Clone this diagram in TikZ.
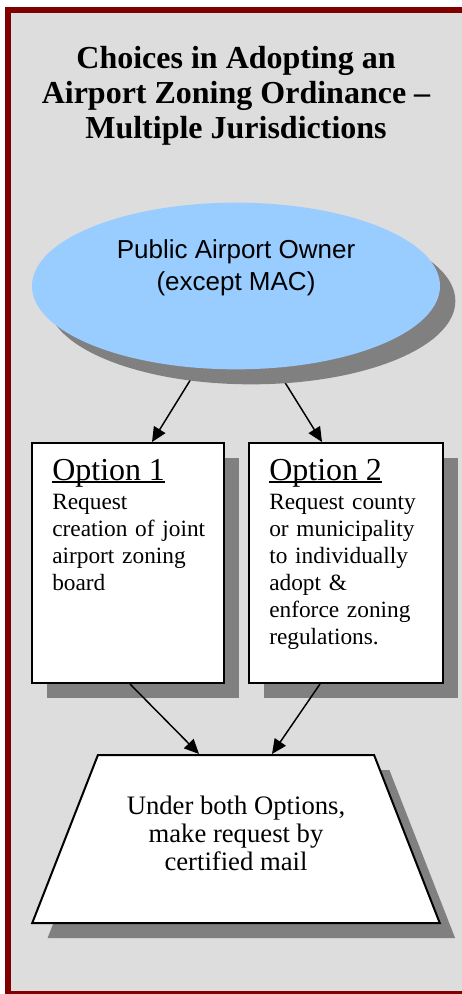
\documentclass[tikz,border=0pt]{standalone}
\usepackage{fontspec}
\setmainfont{Liberation Serif}
\newfontfamily\ownerfont{Liberation Sans}
\usepackage{xcolor}
\usetikzlibrary{shapes.geometric, arrows.meta, positioning, shadows}

\definecolor{framered}{HTML}{800000}
\definecolor{panelgray}{HTML}{DDDDDD}
\definecolor{ownerblue}{HTML}{99CCFF}
\definecolor{shadowgray}{HTML}{808080}

% underline that crosses the descenders
\newcommand{\optline}[1]{\setbox0\hbox{#1}\rlap{\rule[-2pt]{\wd0}{1pt}}\box0}

\pgfdeclarelayer{back}
\pgfdeclarelayer{behind}
\pgfsetlayers{back,behind,main}

\begin{document}
\begin{tikzpicture}[
        x=0.75pt, y=-0.75pt,
        boxshadow/.style={drop shadow={shadow xshift=11.5pt, shadow yshift=-11.25pt, fill=shadowgray, opacity=1}},
        owner/.style={ellipse, fill=ownerblue, minimum width=306pt, minimum height=125pt, inner sep=0pt, boxshadow},
        option/.style={rectangle, draw, line width=1.5pt, fill=white, minimum width=144pt, minimum height=180pt, inner sep=0pt, boxshadow},
        optiontext/.style={anchor=north west, inner sep=0pt, text width=130pt, align=left, font=\fontsize{17.5}{20.25}\selectfont},
        request/.style={trapezium, trapezium stretches=true, trapezium left angle=59, trapezium right angle=59, draw, line width=1.5pt, fill=white, minimum width=306.75pt, minimum height=126pt, inner sep=0pt, align=center, text depth=9pt, font=\fontsize{20}{21}\selectfont, boxshadow},
        link/.style={-{Triangle[length=11pt, width=10pt]}, line width=1.1pt}
    ]
        \useasboundingbox (0,0) rectangle (461,994);

        % panel
        \begin{pgfonlayer}{back}
            \draw[draw=framered, fill=panelgray, line width=4.5pt] (8,10) rectangle (480,994);
        \end{pgfonlayer}

        % title
        \node[anchor=north, inner sep=0pt, align=center, font=\fontsize{24}{26.25}\selectfont\bfseries] (title) at (236,46) {Choices in Adopting an\\ Airport Zoning Ordinance --\\ Multiple Jurisdictions};

        % airport owner
        \node[owner] (owner) at (236,286) {};
        \node[anchor=north, inner sep=0pt, align=center, font=\ownerfont\fontsize{19.5}{24}\selectfont] (ownertext) at (236,239) {Public Airport Owner\\ (except MAC)};

        % the two options
        \node[option] (opt1) at (128,563) {};
        \node[option, minimum width=145.5pt, right=17.25pt of opt1] (opt2) {};
        \node[optiontext] (opt1text) at ([xshift=15.75pt, yshift=-12.5pt]opt1.north west) {{\fontsize{24}{28}\selectfont\optline{Option 1}\par}\vspace{1.5pt}Request\\ creation of joint\\ airport zoning\\ board};
        \node[optiontext] (opt2text) at ([xshift=15.75pt, yshift=-12.5pt]opt2.north west) {{\fontsize{24}{28}\selectfont\optline{Option 2}\par}\vspace{1.5pt}Request county\\ or municipality\\ to individually\\ adopt \&\\ enforce zoning\\ regulations.};

        % common step
        \node[request] (request) at (236,839) {Under both Options,\\ make request by\\ certified mail};

        % links
        \begin{pgfonlayer}{behind}
            \draw[link] (owner.245) -- ([xshift=18pt]opt1.north);
            \draw[link] (owner.296) -- ([xshift=-18pt]opt2.north);
        \end{pgfonlayer}
        \draw[link] ([xshift=1.5pt]opt1.south) -- ([xshift=-27.75pt]request.north);
        \draw[link] ([xshift=-19.5pt]opt2.south) -- ([xshift=27pt]request.north);

    \end{tikzpicture}
\end{document}
